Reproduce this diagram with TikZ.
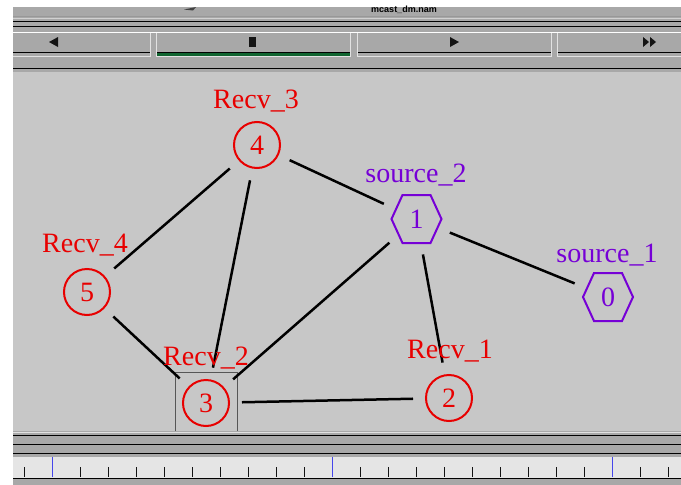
\documentclass[tikz,border=0pt]{standalone}
\usepackage{fontspec}
\setmainfont{Liberation Serif}
\newfontfamily\uifont{Liberation Sans}
\definecolor{panel}{RGB}{168,168,168}
\definecolor{canvasgray}{RGB}{199,199,199}
\definecolor{shade}{RGB}{108,108,108}
\definecolor{hilite}{RGB}{226,226,226}
\definecolor{trackbg}{RGB}{229,229,229}
\definecolor{recvred}{RGB}{232,0,0}
\definecolor{srcpurple}{RGB}{118,0,214}
\definecolor{playgreen}{RGB}{16,100,48}
\definecolor{tickblue}{RGB}{70,70,235}
\definecolor{icon}{RGB}{20,20,20}
\tikzset{
  rule/.style={line width=1pt},
  namfont/.style={font=\fontsize{28}{28}\selectfont},
  recv/.style={circle, draw=recvred, line width=2pt, text=recvred, minimum size=46pt, inner sep=0pt, namfont},
  src/.style={circle, minimum size=46pt, inner sep=0pt, text=srcpurple, namfont},
  hexline/.style={draw=srcpurple, line width=2pt, line join=miter},
  recvlabel/.style={text=recvred, inner sep=0pt, namfont},
  srclabel/.style={text=srcpurple, inner sep=0pt, namfont},
  link/.style={line width=2.5pt, black, shorten <=36pt, shorten >=36pt},
  tick/.style={line width=1pt, icon},
  bigtick/.style={line width=1pt, tickblue}
}
\begin{document}
\begin{tikzpicture}[x=1pt, y=-1pt]
\useasboundingbox (0,0) rectangle (681,485);
\fill[white] (0,0) rectangle (681,485);

% ---- top control panel ----
\fill[panel] (13,7) rectangle (681,72);
\fill[icon!80] (184,9.5) -- (196,7) -- (193,10.5) -- cycle;
\node[font=\uifont\bfseries\fontsize{9}{9}\selectfont, inner sep=0pt] (title) at (404,10) {mcast\_dm.nam};
\draw[rule, shade!70] (13,16) -- (681,16);
\draw[rule, hilite!70!panel] (13,18) -- (681,18);
\draw[rule, shade] (13,21.5) -- (681,21.5);
\draw[rule, shade] (13,26) -- (681,26);
\draw[rule, white] (13,32.5) -- (681,32.5);
% button frames
\foreach \a/\b in {13/150, 156/350, 357/551, 557/681}{
  \draw[rule, shade] (\a,52.5) -- (\b,52.5);
  \draw[rule, hilite] (\a,56.5) -- (\b,56.5);
}
\foreach \x in {150,156,350,357,551,557}{
  \draw[line width=0.8pt, hilite] (\x,33) -- (\x,57);
}
\fill[playgreen] (157,53) rectangle (350,55.5);
\draw[rule, shade] (13,68.5) -- (681,68.5);
% button icons
\fill[icon] (49,42) -- (58,37) -- (58,47) -- cycle;
\fill[icon] (249,37) rectangle (256,47);
\fill[icon] (459,42) -- (450,37) -- (450,47) -- cycle;
\fill[icon] (649,42) -- (643,37) -- (643,47) -- cycle;
\fill[icon] (656,42) -- (650,37) -- (650,47) -- cycle;

% ---- drawing canvas ----
\fill[canvasgray] (13,71.5) rectangle (681,431);

% ---- bottom slider and time line ----
\fill[panel] (13,431) rectangle (681,485);
\draw[rule, hilite] (13,432) -- (681,432);
\draw[rule, shade] (13,435.5) -- (681,435.5);
\draw[rule, shade] (13,444.5) -- (681,444.5);
\draw[rule, shade] (13,453.5) -- (681,453.5);
\fill[trackbg] (13,456.5) rectangle (681,478);
\draw[rule, shade] (13,478.8) -- (681,478.8);
\foreach \i in {0,...,23}{
  \pgfmathsetmacro{\tx}{24+28*\i}
  \ifnum\i=1 \draw[bigtick] (\tx,457) -- (\tx,477);
  \else\ifnum\i=11 \draw[bigtick] (\tx,457) -- (\tx,477);
  \else\ifnum\i=21 \draw[bigtick] (\tx,457) -- (\tx,477);
  \else \draw[tick] (\tx,467) -- (\tx,477);
  \fi\fi\fi
}

% ---- network nodes ----
\node[recv] (n4) at (257,145) {4};
\node[recv] (n5) at (87,292) {5};
\node[recv] (n3) at (206,403) {3};
\node[recv] (n2) at (449,398) {2};
\node[src] (n1) at (416.5,219) {1};
\node[src] (n0) at (608,297) {0};

% hexagon outlines of the sources
\draw[hexline] (n1.center) ++(-25,0) -- ++(11,-24) -- ++(28,0) -- ++(11,24) -- ++(-11,24) -- ++(-28,0) -- cycle;
\draw[hexline] (n0.center) ++(-25,0) -- ++(11,-24) -- ++(28,0) -- ++(11,24) -- ++(-11,24) -- ++(-28,0) -- cycle;

% selection box around node 3
\draw[line width=1pt, shade!80!black] (175,431) -- (175,372) -- (237,372) -- (237,431);

% ---- links ----
\draw[link] (n4.center) -- (n1.center);
\draw[link] (n4.center) -- (n5.center);
\draw[link] (n4.center) -- (n3.center);
\draw[link] (n5.center) -- (n3.center);
\draw[link] (n1.center) -- (n3.center);
\draw[link] (n1.center) -- (n0.center);
\draw[link] (n1.center) -- (n2.center);
\draw[link] (n3.center) -- (n2.center);

% ---- node labels ----
\node[recvlabel] (l4) at (256,101) {Recv\_3};
\node[recvlabel] (l5) at (85,245) {Recv\_4};
\node[recvlabel] (l3) at (206,358) {Recv\_2};
\node[recvlabel] (l2) at (450,351) {Recv\_1};
\node[srclabel] (l1) at (416,175) {source\_2};
\node[srclabel] (l0) at (607,255) {source\_1};
\end{tikzpicture}
\end{document}
